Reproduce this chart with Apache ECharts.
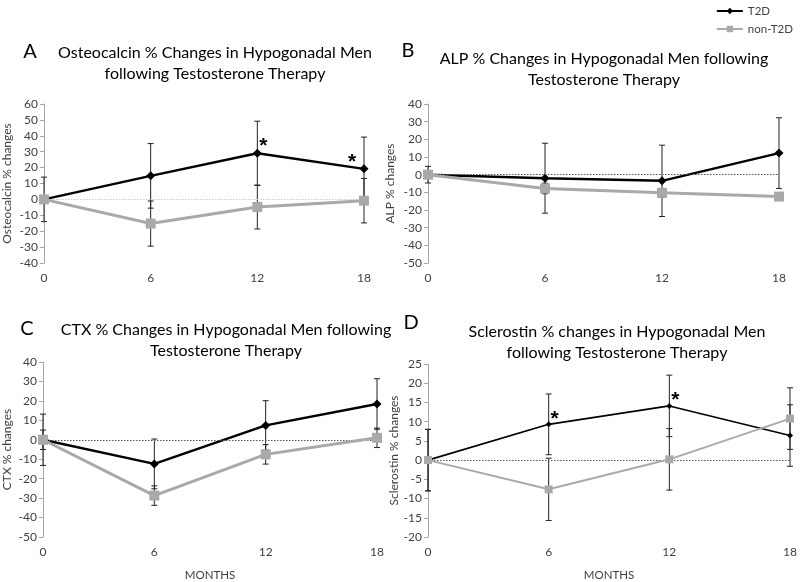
<!DOCTYPE html>
<html>
<head>
<meta charset="utf-8">
<script src="https://cdn.jsdelivr.net/npm/echarts@6/dist/echarts.min.js"></script>
<style>
	html, body { margin: 0; padding: 0; background: #fff; }
	#chart { width: 800px; height: 582px; }
</style>
</head>
<body>
<div id="chart"></div>
<script>
	'use strict';

	var months = [0, 6, 12, 18];

	// A - osteocalcin
	var oscT2D = [0, 14.8, 29, 19.2];
	var oscT2DErr = [0, 20.3, 20.2, 20];
	var oscNon = [0, -15.2, -4.8, -0.8];
	var oscNonErr = [14, 14.2, 13.8, 14];
	var oscStars = [12, 18];

	// B - ALP
	var alpT2D = [0, -2, -3.5, 12.2];
	var alpT2DErr = [0, 19.8, 20.2, 20];
	var alpNon = [0, -7.8, -10.3, -12.4];
	var alpNonErr = [4.7, 3, 2.5, 2.2];

	// C - CTX
	var ctxT2D = [0, -12.4, 7.4, 18.4];
	var ctxT2DErr = [13.2, 12.8, 12.7, 13];
	var ctxNon = [0, -28.7, -7.5, 1];
	var ctxNonErr = [5, 5, 5, 5];

	// D - sclerostin
	var sclT2D = [0, 9.3, 14.1, 6.4];
	var sclT2DErr = [8, 7.9, 8, 8];
	var sclNon = [0, -7.6, 0.2, 10.8];
	var sclNonErr = [8, 8.1, 8, 8];
	var sclStars = [6, 12];

	var FONT = 'Lato, "Liberation Sans", sans-serif';
	var BLACK = '#000000';
	var GREY = '#a9a9a9';

	var panels = [
		{ letter: 'A', title: ['Osteocalcin % Changes in Hypogonadal Men', 'following Testosterone Therapy'],
			yName: 'Osteocalcin % changes', min: -40, max: 60, step: 10,
			t2d: oscT2D, t2dErr: oscT2DErr, non: oscNon, nonErr: oscNonErr, stars: oscStars,
			grid: { left: 42, right: 436, top: 104, bottom: 319 }, nameGap: 31, zero: '#c8c8c8',
			titleX: 215, titleY: 53, letterX: 30, letterY: 52, thick: 2.5, months: false },
		{ letter: 'B', title: ['ALP % Changes in Hypogonadal Men following', 'Testosterone Therapy'],
			yName: 'ALP % changes', min: -50, max: 40, step: 10,
			t2d: alpT2D, t2dErr: alpT2DErr, non: alpNon, nonErr: alpNonErr, stars: [],
			grid: { left: 428, right: 21, top: 104, bottom: 319 }, nameGap: 32, zero: '#555555',
			titleX: 604, titleY: 59, letterX: 408, letterY: 51, thick: 2.5, months: false },
		{ letter: 'C', title: ['CTX % Changes in Hypogonadal Men following', 'Testosterone Therapy'],
			yName: 'CTX % changes', min: -50, max: 40, step: 10,
			t2d: ctxT2D, t2dErr: ctxT2DErr, non: ctxNon, nonErr: ctxNonErr, stars: [],
			grid: { left: 43, right: 423, top: 362, bottom: 39 }, nameGap: 30, zero: '#555555',
			titleX: 226, titleY: 330, letterX: 27, letterY: 329, thick: 2.5, months: true },
		{ letter: 'D', title: ['Sclerostin % changes in Hypogonadal Men', 'following Testosterone Therapy'],
			yName: 'Sclerostin % changes', min: -20, max: 25, step: 5,
			t2d: sclT2D, t2dErr: sclT2DErr, non: sclNon, nonErr: sclNonErr, stars: sclStars,
			grid: { left: 428, right: 10, top: 364, bottom: 36 }, nameGap: 25, zero: '#555555',
			titleX: 617, titleY: 332, letterX: 411, letterY: 323, thick: 1.6, months: true }
	];

	function errData(vals, errs) {
		return months.map(function(m, i) { return [m, vals[i], errs[i]]; });
	}

	function lineData(vals, stars) {
		return months.map(function(m, i) {
			var item = { value: [m, vals[i]] };
			if (stars.indexOf(m) >= 0) {
				var last = m === months[months.length - 1];
				item.label = {
					show: true, formatter: '*', color: '#000', fontSize: 21, fontWeight: 'bold',
					fontFamily: '"Liberation Sans", sans-serif',
					position: 'top', offset: last ? [-12, 13] : [6, 13]
				};
			}
			return item;
		});
	}

	function renderErr(params, api) {
		var x = api.value(0), y = api.value(1), e = api.value(2);
		if (!e) return;
		var hi = api.coord([x, y + e]);
		var lo = api.coord([x, y - e]);
		var st = { stroke: '#222', lineWidth: 1 };
		return {
			type: 'group',
			children: [
				{ type: 'line', shape: { x1: hi[0], y1: hi[1], x2: lo[0], y2: lo[1] }, style: st },
				{ type: 'line', shape: { x1: hi[0] - 3, y1: hi[1], x2: hi[0] + 3, y2: hi[1] }, style: st },
				{ type: 'line', shape: { x1: lo[0] - 3, y1: lo[1], x2: lo[0] + 3, y2: lo[1] }, style: st }
			]
		};
	}

	var grids = [], xAxes = [], yAxes = [], series = [], graphics = [];

	panels.forEach(function(p, i) {
		grids.push(p.grid);
		xAxes.push({
			type: 'value', gridIndex: i, min: 0, max: 18, interval: 6,
			axisLine: { show: false }, axisTick: { show: false }, splitLine: { show: false },
			axisLabel: { color: '#404040', fontSize: 12, fontFamily: FONT, margin: 9 },
			name: p.months ? 'MONTHS' : '', nameLocation: 'middle', nameGap: 32,
			nameTextStyle: { color: '#404040', fontSize: 11.5, fontFamily: FONT }
		});
		yAxes.push({
			type: 'value', gridIndex: i, min: p.min, max: p.max, interval: p.step,
			axisLine: { show: true, onZero: false, lineStyle: { color: '#a6a6a6', width: 1 } },
			axisTick: { show: true, length: 4, lineStyle: { color: '#a6a6a6' } },
			splitLine: { show: false },
			axisLabel: { color: '#404040', fontSize: 12, fontFamily: FONT, margin: 6 },
			name: p.yName, nameLocation: 'middle', nameGap: p.nameGap, nameRotate: 90,
			nameTextStyle: { color: '#404040', fontSize: 12, fontFamily: FONT }
		});

		series.push({
			type: 'custom', name: 'errT2D' + i, xAxisIndex: i, yAxisIndex: i,
			renderItem: renderErr, data: errData(p.t2d, p.t2dErr), clip: false, z: 3, silent: true
		});
		series.push({
			type: 'custom', name: 'errNon' + i, xAxisIndex: i, yAxisIndex: i,
			renderItem: renderErr, data: errData(p.non, p.nonErr), clip: false, z: 3, silent: true
		});
		series.push({
			type: 'line', name: 'T2D', xAxisIndex: i, yAxisIndex: i, clip: false, z: 4,
			data: lineData(p.t2d, p.stars),
			symbol: 'diamond', symbolSize: p.thick > 2 ? 9 : 6,
			lineStyle: { color: BLACK, width: p.thick }, itemStyle: { color: BLACK },
			markLine: {
				silent: true, symbol: 'none', label: { show: false },
				lineStyle: { color: p.zero, type: [1.5, 1.5], width: 1 },
				data: [{ yAxis: 0 }]
			}
		});
		series.push({
			type: 'line', name: 'non-T2D', xAxisIndex: i, yAxisIndex: i, clip: false, z: 5,
			data: lineData(p.non, []),
			symbol: 'rect', symbolSize: p.thick > 2 ? 10 : 8,
			lineStyle: { color: GREY, width: p.thick > 2 ? 3 : 2 }, itemStyle: { color: GREY }
		});

		graphics.push({
			type: 'text', x: p.letterX, y: p.letterY,
			style: { text: p.letter, font: '20px ' + FONT, fill: '#000', textAlign: 'center', textVerticalAlign: 'middle' }
		});
		p.title.forEach(function(line, k) {
			graphics.push({
				type: 'text', x: p.titleX, y: p.titleY + k * 21,
				style: { text: line, font: '16px ' + FONT, fill: '#000', textAlign: 'center', textVerticalAlign: 'middle' }
			});
		});
	});

	var chart = echarts.init(document.getElementById('chart'), null, { renderer: 'canvas' });
	chart.setOption({
		animation: false,
		backgroundColor: '#ffffff',
		legend: {
			data: ['T2D', 'non-T2D'], orient: 'vertical', right: 2, top: 0,
			itemWidth: 26, itemHeight: 8, itemGap: 6,
			textStyle: { color: '#404040', fontSize: 11.5, fontFamily: FONT }
		},
		grid: grids,
		xAxis: xAxes,
		yAxis: yAxes,
		series: series,
		graphic: graphics
	});
</script>
</body>
</html>
